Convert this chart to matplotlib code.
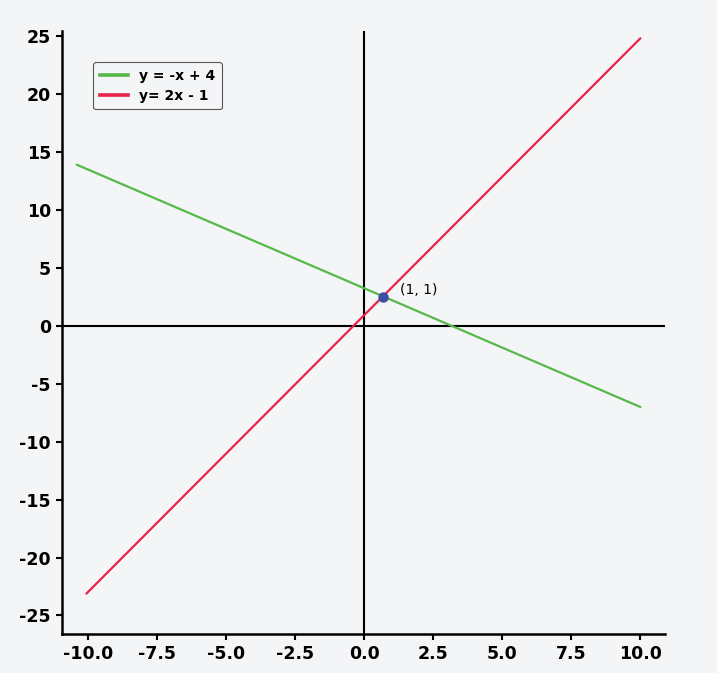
import matplotlib.pyplot as plt

# line endpoints
green_x = [-10.4, 10.0]
green_y = [13.9, -7.0]
red_x = [-10.05, 10.0]
red_y = [-23.1, 24.8]
point_x = [0.68]
point_y = [2.5]
point_label = '(1, 1)'
x_ticks = [-10.0, -7.5, -5.0, -2.5, 0.0, 2.5, 5.0, 7.5, 10.0]
y_ticks = [-25, -20, -15, -10, -5, 0, 5, 10, 15, 20, 25]

bg = '#f4f5f7'
fig = plt.figure(figsize=(7.17, 6.73), dpi=100, facecolor=bg)
ax = fig.add_axes([0.0865, 0.058, 0.841, 0.896], facecolor=bg)

ax.axhline(0, color='black', lw=1.5, zorder=1)
ax.axvline(0, color='black', lw=1.5, zorder=1)
ax.plot(green_x, green_y, color='#55b849', lw=1.6, label='y = -x + 4', zorder=2)
ax.plot(red_x, red_y, color='#e8234b', lw=1.6, label='y= 2x - 1', zorder=2)
ax.plot(point_x, point_y, 'o', color='#3b4fa3', ms=6.5, zorder=3)
ax.annotate(point_label, (point_x[0], point_y[0]), xytext=(12, 0),
            textcoords='offset points', fontsize=10, va='bottom')

ax.set_xlim(-10.94, 10.9)
ax.set_ylim(-26.6, 25.45)
ax.set_xticks(x_ticks)
ax.set_yticks(y_ticks)
ax.set_xticklabels([f'{t:.1f}' for t in x_ticks])
ax.set_yticklabels([str(t) for t in y_ticks])
for lab in ax.get_xticklabels() + ax.get_yticklabels():
    lab.set_fontweight('bold')
    lab.set_fontsize(12.5)
ax.tick_params(direction='out', length=4, width=1.5, pad=4)

ax.spines['top'].set_visible(False)
ax.spines['right'].set_visible(False)
ax.spines['left'].set_linewidth(1.8)
ax.spines['bottom'].set_linewidth(1.8)

leg = ax.legend(loc='upper left', bbox_to_anchor=(0.04, 0.96),
                prop={'weight': 'bold', 'size': 10}, facecolor=bg,
                edgecolor='#555555', framealpha=1, handlelength=2.0,
                borderpad=0.5, labelspacing=0.4)
leg.get_frame().set_linewidth(0.8)
for h in leg.get_lines():
    h.set_linewidth(2.6)

fig.savefig('out.png', dpi=100, facecolor=bg)
